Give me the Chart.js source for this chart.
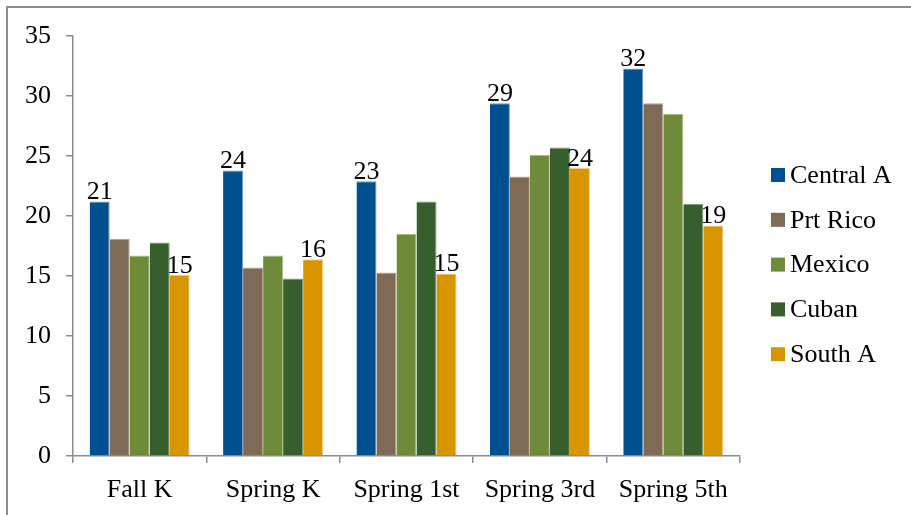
<!DOCTYPE html>
<html>
<head>
<meta charset="utf-8">
<script src="https://cdn.jsdelivr.net/npm/chart.js@4"></script>
<style>
  html, body { margin: 0; padding: 0; background: #fff; }
  #wrap { position: relative; width: 911px; height: 515px; overflow: hidden; }
  #frame { position: absolute; left: 6px; top: 6px; width: 1000px; height: 600px;
           border-top: 2px solid #8c8c8c; border-left: 2px solid #8c8c8c; }
  canvas { position: absolute; left: 0; top: 0; }
</style>
</head>
<body>
<div id="wrap">
  <div id="frame"></div>
  <canvas id="chart" width="911" height="515"></canvas>
</div>
<script>
const categories = ['Fall K', 'Spring K', 'Spring 1st', 'Spring 3rd', 'Spring 5th'];
const centralA = [21.2, 23.8, 22.9, 29.4, 32.3];
const prtRico = [18.1, 15.7, 15.3, 23.3, 29.4];
const mexico = [16.7, 16.7, 18.5, 25.1, 28.5];
const cuban = [17.8, 14.8, 21.2, 25.7, 21.0];
const southA = [15.1, 16.4, 15.2, 24.0, 19.2];
const seriesNames = ['Central A', 'Prt Rico', 'Mexico', 'Cuban', 'South A'];
const seriesColors = ['#00508f', '#7f6a55', '#6e8b3a', '#375e2d', '#d89500'];
const edgeColors = ['#6f9cc4', '#b3a291', '#a9bf84', '#7f9a76', '#f0cd80'];
const yTicks = [0, 5, 10, 15, 20, 25, 30, 35];
const labelled = [0, 4]; // series that carry value labels

const font = 'Liberation Serif, Times New Roman, serif';
const fontSize = 26;

// value labels above the first and last bar of each group
const valueLabels = {
  id: 'valueLabels',
  afterDatasetsDraw(chart) {
    const ctx = chart.ctx;
    ctx.save();
    ctx.font = fontSize + 'px ' + font;
    ctx.fillStyle = '#000';
    ctx.textAlign = 'center';
    ctx.textBaseline = 'bottom';
    labelled.forEach(i => {
      const meta = chart.getDatasetMeta(i);
      meta.data.forEach((bar, j) => {
        const v = chart.data.datasets[i].data[j];
        ctx.fillText(Math.round(v), bar.x, bar.y + 4);
      });
    });
    ctx.restore();
  }
};

// legend on the right, drawn from the dataset list
const sideLegend = {
  id: 'sideLegend',
  afterDraw(chart) {
    const ctx = chart.ctx;
    ctx.save();
    ctx.font = fontSize + 'px ' + font;
    ctx.textBaseline = 'middle';
    chart.data.datasets.forEach((ds, i) => {
      const y = 175 + i * 44.8;
      ctx.fillStyle = ds.backgroundColor;
      ctx.fillRect(771, y - 7, 14, 14);
      ctx.fillStyle = '#000';
      ctx.fillText(ds.label, 790, y + 1);
    });
    ctx.restore();
  }
};

const allSeries = [centralA, prtRico, mexico, cuban, southA];

new Chart(document.getElementById('chart'), {
  type: 'bar',
  data: {
    labels: categories,
    datasets: allSeries.map((vals, i) => ({
      label: seriesNames[i],
      data: vals,
      backgroundColor: seriesColors[i],
      borderColor: edgeColors[i],
      borderWidth: { top: 1, right: 1, left: 0, bottom: 0 },
      categoryPercentage: 0.75,
      barPercentage: 1.0
    }))
  },
  options: {
    responsive: false,
    animation: false,
    layout: { padding: { top: 36, right: 171, left: 0, bottom: 0 } },
    plugins: { legend: { display: false }, tooltip: { enabled: false } },
    scales: {
      x: {
        offset: true,
        grid: { offset: true, drawOnChartArea: false, drawTicks: true, tickLength: 7, color: '#8c8c8c', lineWidth: 1.5 },
        border: { color: '#8c8c8c', width: 1.5 },
        ticks: { color: '#000', font: { family: font, size: fontSize }, padding: 12 },
        afterFit(scale) { scale.height = 59; }
      },
      y: {
        min: 0,
        max: 35,
        afterBuildTicks(scale) { scale.ticks = yTicks.map(v => ({ value: v })); },
        grid: { drawOnChartArea: false, drawTicks: true, tickLength: 7, color: '#8c8c8c', lineWidth: 1.5 },
        border: { color: '#8c8c8c', width: 1.5 },
        ticks: { color: '#000', font: { family: font, size: fontSize }, padding: 15 },
        afterFit(scale) { scale.width = 73; }
      }
    }
  },
  plugins: [valueLabels, sideLegend]
});
</script>
</body>
</html>
